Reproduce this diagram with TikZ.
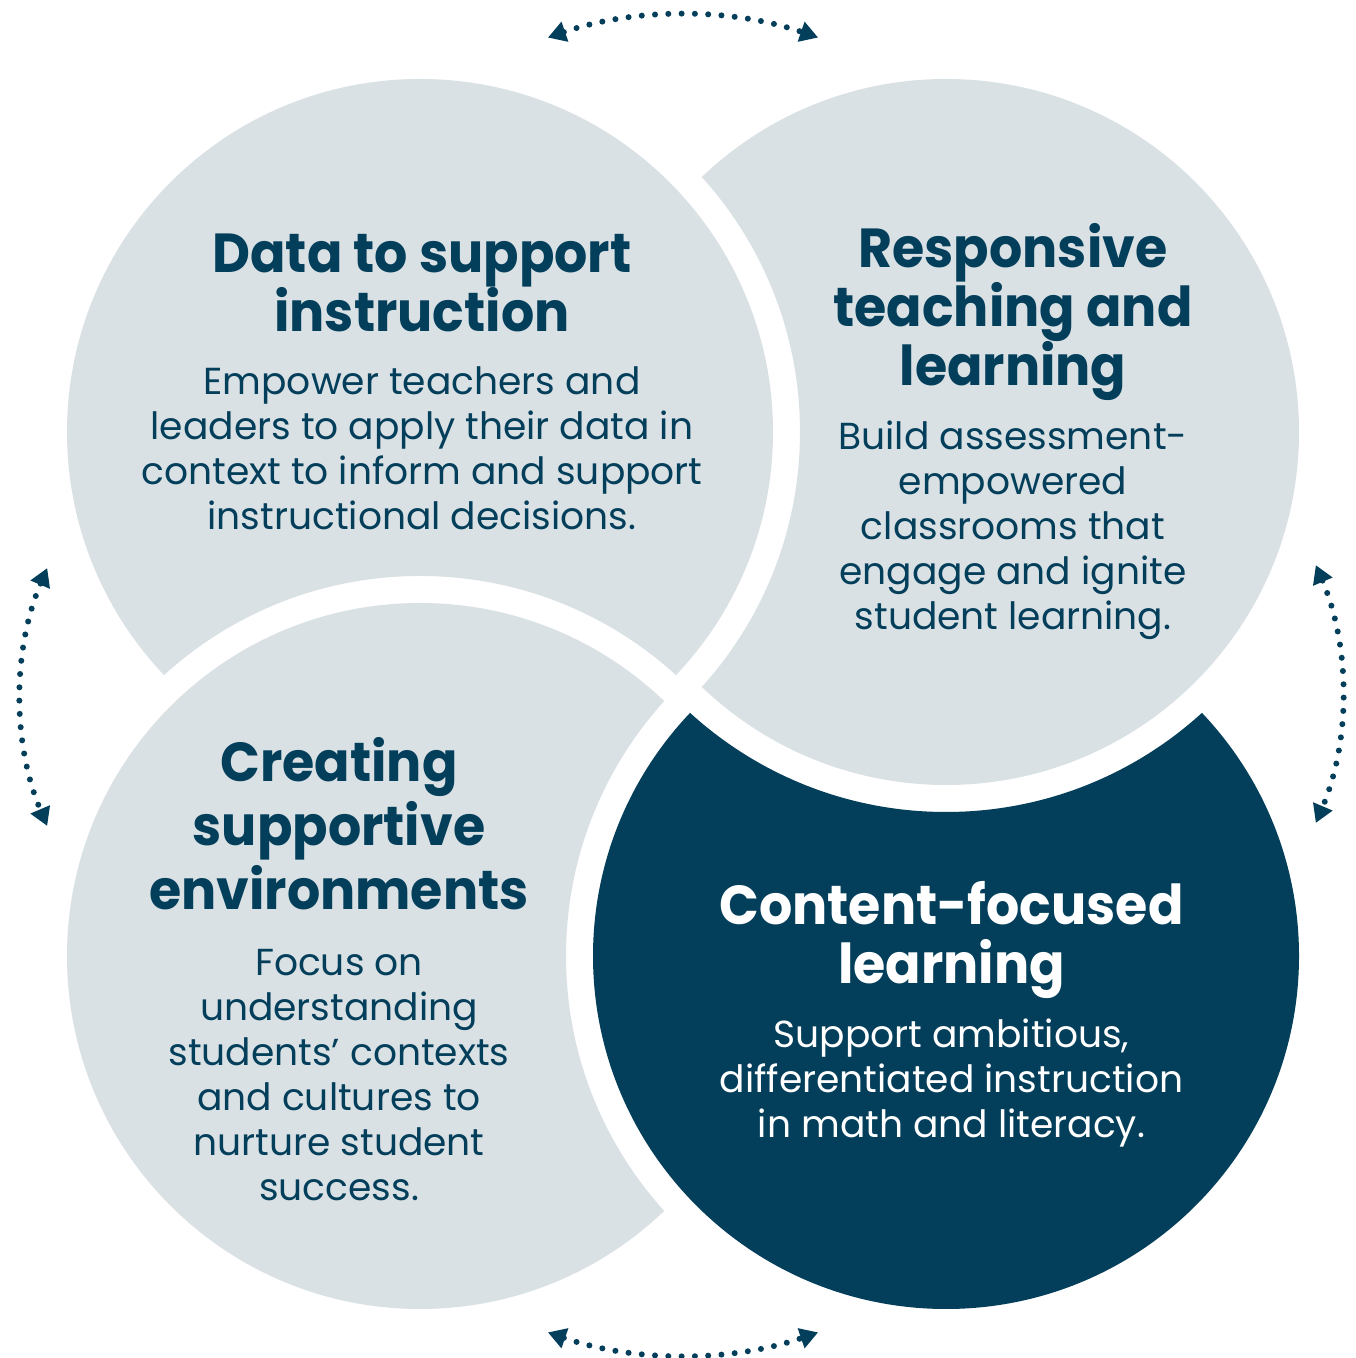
\documentclass[tikz,border=0pt]{standalone}
\usepackage{fontspec}
\setmainfont{Poppins}
\newfontfamily\ttlfont{Poppins}[FakeStretch=0.95]
\usetikzlibrary{arrows.meta}
\definecolor{navy}{HTML}{033E5A}
\definecolor{pale}{HTML}{DAE1E5}
\begin{document}
\lineskiplimit=-100pt\relax
\lineskip=0pt\relax
\begin{tikzpicture}[x=0.5pt,y=0.5pt,
  ttl/.style={align=center, inner sep=0pt, font=\ttlfont\fontsize{27.5pt}{29.3pt}\selectfont\bfseries, text=navy},
  ttlb/.style={ttl, font=\ttlfont\fontsize{27.5pt}{32pt}\selectfont\bfseries},
  bdy/.style={align=center, inner sep=0pt, font=\fontsize{18.8pt}{22.5pt}\selectfont, text=navy},
  cyc/.style={navy, line width=3pt, line cap=round, dash pattern=on 0pt off 6.65pt,
    {Triangle[length=9pt,width=10pt]}-{Triangle[length=9pt,width=10pt]}}
]
\useasboundingbox (0,0) rectangle (1355,1358);
\fill[white] (0,0) rectangle (1355,1358);
\def\rr{176.5pt}
\def\RR{190pt}
\coordinate (cTL) at (420,926);
\coordinate (cTR) at (946,926);
\coordinate (cBL) at (420,402);
\coordinate (cBR) at (946,402);
% top-left, cut by bottom-left
\begin{scope}
  \clip (cTL) circle[radius=\rr];
  \fill[pale,even odd rule] (0,0) rectangle (1355,1358) (cBL) circle[radius=\RR];
\end{scope}
% top-right, cut by top-left
\begin{scope}
  \clip (cTR) circle[radius=\rr];
  \fill[pale,even odd rule] (0,0) rectangle (1355,1358) (cTL) circle[radius=\RR];
\end{scope}
% bottom-right, cut by top-right
\begin{scope}
  \clip (cBR) circle[radius=\rr];
  \fill[navy,even odd rule] (0,0) rectangle (1355,1358) (cTR) circle[radius=\RR];
\end{scope}
% bottom-left, cut by bottom-right
\begin{scope}
  \clip (cBL) circle[radius=\rr];
  \fill[pale,even odd rule] (0,0) rectangle (1355,1358) (cBR) circle[radius=\RR];
\end{scope}
% cycle arrows
\coordinate (aT) at (547.9,1320.4);
\coordinate (aB) at (547.9,25.6);
\coordinate (aL) at (47.2,789.9);
\coordinate (aR) at (1315.8,792.9);
\draw[cyc] (aT) arc[start angle=109, end angle=71, radius=207.5pt];
\draw[cyc] (aB) arc[start angle=251, end angle=289, radius=207.5pt];
\draw[cyc] (aL) arc[start angle=157, end angle=203, radius=165pt];
\draw[cyc] (aR) arc[start angle=23, end angle=-23, radius=165pt];
% texts
\node[ttl] (t1) at (422,1075) {Data to support\\instruction};
\node[bdy] (b1) at (422,910) {Empower teachers and\\leaders to apply their data in\\context to inform and support\\instructional decisions.};
\node[ttl] (t2) at (1013,1046) {Responsive\\teaching and\\learning};
\node[bdy] (b2) at (1013,827.3) {Build assessment-\\empowered\\classrooms that\\engage and ignite\\student learning.};
\node[ttlb] (t3) at (339,534) {Creating\\supportive\\environments};
\node[bdy] (b3) at (339,283) {Focus on\\understanding\\students’ contexts\\and cultures to\\nurture student\\success.};
\node[ttl, text=white] (t4) at (951.5,418) {Content-focused\\learning};
\node[bdy, text=white] (b4) at (951.5,275) {Support ambitious,\\differentiated instruction\\in math and literacy.};
\end{tikzpicture}
\end{document}
